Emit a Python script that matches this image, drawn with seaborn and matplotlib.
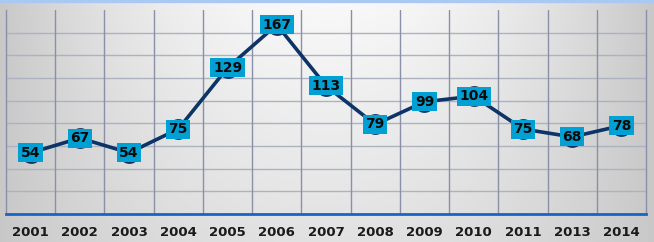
import numpy as np
import pandas as pd
import matplotlib
matplotlib.use("Agg")
import matplotlib.pyplot as plt
import seaborn as sns

years = ["2001", "2002", "2003", "2004", "2005", "2006", "2007",
         "2008", "2009", "2010", "2011", "2013", "2014"]
values = [54, 67, 54, 75, 129, 167, 113, 79, 99, 104, 75, 68, 78]

sns.set_style("white")
plt.rcParams["font.family"] = ["DejaVu Sans"]

W, H = 654, 242
fig = plt.figure(figsize=(W / 100, H / 100), dpi=100)

# background gradient
bg = fig.add_axes([0, 0, 1, 1], zorder=-10)
xx, yy = np.meshgrid(np.linspace(0, 1, 300), np.linspace(0, 1, 120))
xn = (xx - 0.5) / 0.5
v = 0.975 - 0.19 * xn ** 2 - 0.09 * yy * (1 - xn ** 2)
bg.imshow(np.dstack([v, v, v]), aspect="auto", extent=[0, 1, 0, 1], origin="upper")
bg.axhline(1 - 1.2 / H, color="#a9c9f2", lw=2.4)
bg.set_xlim(0, 1)
bg.set_ylim(0, 1)
bg.axis("off")

left, right, top, bottom = 6, 646, 10, 214
ax = fig.add_axes([left / W, (H - bottom) / H, (right - left) / W, (bottom - top) / H])
ax.patch.set_alpha(0)

df = pd.DataFrame({"idx": np.arange(len(years)), "value": values})
sns.lineplot(data=df, x="idx", y="value", ax=ax, color="#0d3466", lw=2.6,
             marker="o", markersize=15, markeredgewidth=0, zorder=3)

for i, val in enumerate(values):
    ax.text(i, val, str(val), ha="center", va="center", fontsize=10,
            fontweight="bold", color="#0a0a0a", zorder=5,
            bbox=dict(boxstyle="square,pad=0.18", fc="#009fd4", ec="none"))

ax.set_xlim(-0.5, len(years) - 0.5)
ax.set_ylim(0, 180)
for k in np.arange(0.5, len(years) - 0.5, 1):
    ax.axvline(k, color="#8a90a8", lw=1, zorder=1)
for yv in range(20, 180, 20):
    ax.axhline(yv, color="#aeb2c0", lw=1, zorder=0.5)
ax.set_xticks(np.arange(len(years)))
ax.set_xticklabels(years, fontsize=9.5, fontweight="bold", color="#1a1a1a")
ax.set_yticks([])
ax.set_xlabel("")
ax.set_ylabel("")
ax.tick_params(axis="x", length=0, pad=9)
for s in ["left", "right"]:
    ax.spines[s].set_color("#8a90a8")
    ax.spines[s].set_linewidth(1)
ax.spines["top"].set_visible(False)
ax.spines["bottom"].set_color("#1565c8")
ax.spines["bottom"].set_linewidth(2)

fig.savefig("out.png", dpi=100)
